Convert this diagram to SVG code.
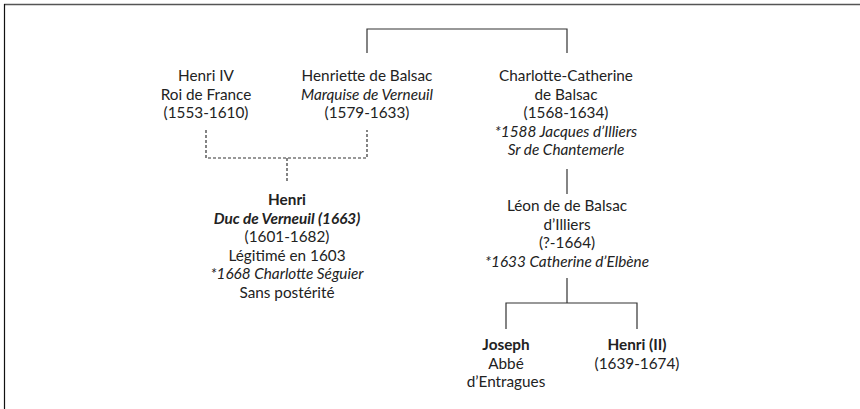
<svg xmlns="http://www.w3.org/2000/svg" width="860" height="409" viewBox="0 0 860 409">
<style>
text{font-family:Lato,"Open Sans","Liberation Sans",sans-serif;font-size:15.3px;fill:#222;text-anchor:middle}
.i{font-style:italic}
.b{font-weight:bold}
.c{fill:none;stroke:#333;stroke-width:1.2}
.d{fill:none;stroke:#333;stroke-width:1.2;stroke-dasharray:3 2}
</style>
<rect width="860" height="409" fill="#fff"/>
<line x1="4" y1="4.5" x2="860" y2="4.5" stroke="#555" stroke-width="1.6"/>
<line x1="4.5" y1="4" x2="4.5" y2="409" stroke="#111" stroke-width="1.2"/>
<g id="connectors">
<path class="c" d="M367,53 V29 H567 V53"/>
<path class="d" d="M206,130 V158 H367 V130 M287,158 V182"/>
<path class="c" d="M567,169 V194"/>
<path class="c" d="M567,278 V303 M506,329 V303 H637 V329"/>
</g>
<g id="henri4">
<text x="206" y="81">Henri IV</text>
<text x="206" y="99.5">Roi de France</text>
<text x="206" y="118">(1553-1610)</text>
</g>
<g id="henriette">
<text x="367" y="81">Henriette de Balsac</text>
<text x="367" y="99.5" class="i">Marquise de Verneuil</text>
<text x="367" y="118">(1579-1633)</text>
</g>
<g id="charlotte">
<text x="566" y="81">Charlotte-Catherine</text>
<text x="566" y="99.5">de Balsac</text>
<text x="566" y="118">(1568-1634)</text>
<text x="566" y="136.5" class="i">*1588 Jacques d’Illiers</text>
<text x="566" y="155" class="i">Sr de Chantemerle</text>
</g>
<g id="henri">
<text x="287" y="205" class="b">Henri</text>
<text x="287" y="223.5" class="b i">Duc de Verneuil (1663)</text>
<text x="287" y="242">(1601-1682)</text>
<text x="287" y="260.5">Légitimé en 1603</text>
<text x="287" y="279" class="i">*1668 Charlotte Séguier</text>
<text x="287" y="297.5">Sans postérité</text>
</g>
<g id="leon">
<text x="567" y="211">Léon de de Balsac</text>
<text x="567" y="229.5">d’Illiers</text>
<text x="567" y="248">(?-1664)</text>
<text x="567" y="266.5" class="i">*1633 Catherine d’Elbène</text>
</g>
<g id="joseph">
<text x="506" y="350" class="b">Joseph</text>
<text x="506" y="368.5">Abbé</text>
<text x="506" y="387">d’Entragues</text>
</g>
<g id="henri2">
<text x="637" y="350" class="b">Henri (II)</text>
<text x="637" y="368.5">(1639-1674)</text>
</g>
</svg>
